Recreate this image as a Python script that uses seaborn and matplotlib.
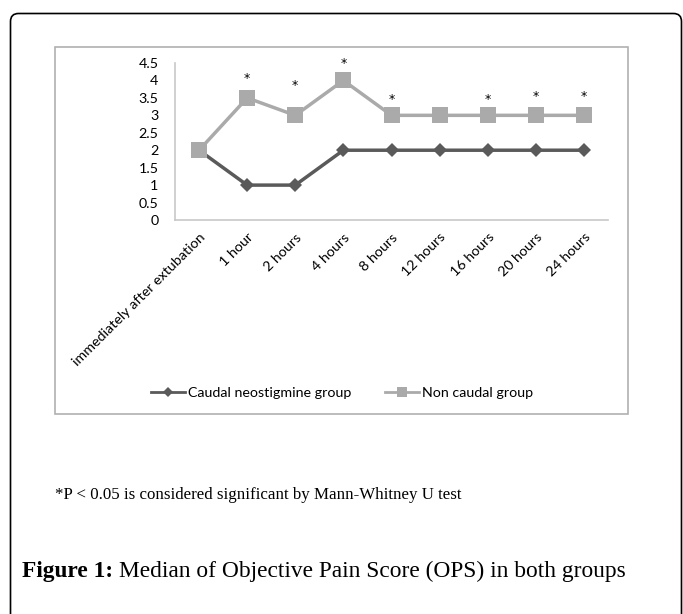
import pandas as pd
import seaborn as sns
import matplotlib.pyplot as plt
from matplotlib.patches import FancyBboxPatch, Rectangle

times = ['immediately after extubation', '1 hour', '2 hours', '4 hours', '8 hours',
         '12 hours', '16 hours', '20 hours', '24 hours']
caudal = [2, 1, 1, 2, 2, 2, 2, 2, 2]
non_caudal = [2, 3.5, 3, 4, 3, 3, 3, 3, 3]
# significance stars (height above the non caudal line), None = no star
star_height = [None, 4.05, 3.85, 4.5, 3.45, None, 3.45, 3.55, 3.55]
yticks = [0, 0.5, 1, 1.5, 2, 2.5, 3, 3.5, 4, 4.5]
ytick_labels = ['0', '0.5', '1', '1.5', '2', '2.5', '3', '3.5', '4', '4.5']

groups = ['Caudal neostigmine group', 'Non caudal group']
df = pd.DataFrame({
    'time': times * 2,
    'score': caudal + non_caudal,
    'group': [groups[0]] * len(times) + [groups[1]] * len(times),
})

W, H = 683, 614
fig = plt.figure(figsize=(W / 100, H / 100), dpi=100)

# background layer in pixel coords for the boxes
bg = fig.add_axes([0, 0, 1, 1], zorder=-1)
bg.set_xlim(0, W)
bg.set_ylim(H, 0)
bg.axis('off')
bg.add_patch(FancyBboxPatch((10.5, 13.5), 671, 640, boxstyle='round,pad=0,rounding_size=8',
                            fc='white', ec='black', lw=1.2))
bg.add_patch(Rectangle((55, 47), 573, 367, fc='white', ec='#b0b0b0', lw=1.2))

ax = fig.add_axes([175 / W, 1 - 220 / H, (608 - 175) / W, (220 - 63) / H])
ax.set_facecolor('none')
font = 'Lato'
fs = 10.3

palette = {groups[0]: '#5a5a5a', groups[1]: '#aaaaaa'}
sns.lineplot(data=df, x='time', y='score', hue='group', style='group',
             markers={groups[0]: 'D', groups[1]: 's'}, dashes=False,
             palette=palette, linewidth=2.5, markeredgewidth=0, ax=ax, legend=False)
for line, ms in zip(ax.lines, [7, 11]):
    line.set_markersize(ms)

for i, h in enumerate(star_height):
    if h is not None:
        ax.text(i, h, '*', ha='center', va='center', fontsize=9, color='black')

ax.set_xlim(-0.5, len(times) - 0.5)
ax.set_ylim(0, 4.5)
ax.set_yticks(yticks)
ax.set_yticklabels(ytick_labels, family=font, fontsize=fs)
ax.set_xticks(range(len(times)))
ax.set_xticklabels(times, family=font, fontsize=fs, rotation=45, ha='right',
                   rotation_mode='anchor')
ax.tick_params(axis='y', length=0, pad=12)
ax.tick_params(axis='x', length=0, pad=8)
ax.set_xlabel('')
ax.set_ylabel('')
for s in ['top', 'right']:
    ax.spines[s].set_visible(False)
for s in ['left', 'bottom']:
    ax.spines[s].set_color('#c8c8c8')
    ax.spines[s].set_linewidth(1.2)

handles = [plt.Line2D([], [], color=palette[g], marker=m, ms=ms, mew=0, lw=2)
           for g, m, ms in zip(groups, ['D', 's'], [5, 7])]
fig.legend(handles, groups, loc='center', bbox_to_anchor=(342 / W, 1 - 393 / H), ncol=2,
           frameon=False, prop={'family': font, 'size': fs}, handlelength=2.4,
           columnspacing=2.3, handletextpad=0.2)

fig.text(55 / W, 1 - 495 / H, '*P < 0.05 is considered significant by Mann-Whitney U test',
         family='Liberation Serif', fontsize=12.2, va='center')

bold = fig.text(22 / W, 1 - 582 / H, 'Figure 1:', family='Liberation Serif',
                fontweight='bold', fontsize=16.8, va='bottom')
bg.annotate('Median of Objective Pain Score (OPS) in both groups', xy=(1, 0),
            xycoords=bold, xytext=(4, 0), textcoords='offset points', va='bottom',
            family='Liberation Serif', fontsize=16.8)

fig.savefig('out.png', dpi=100)
